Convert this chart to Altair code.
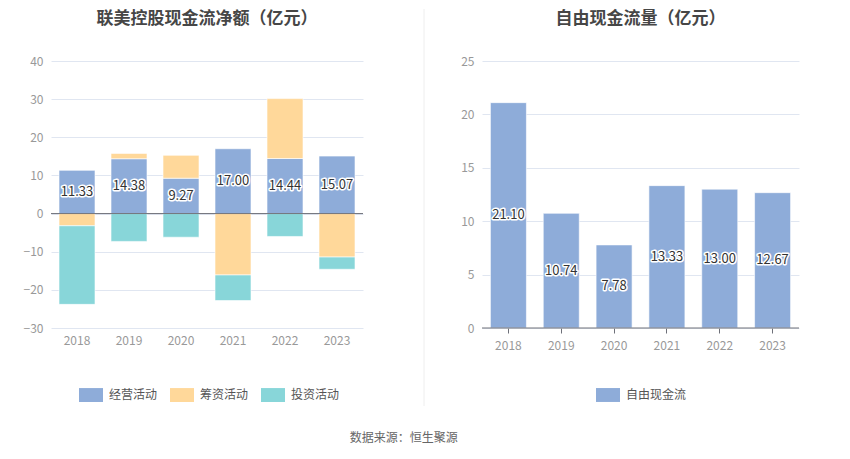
import altair as alt
import pandas as pd

years = ["2018", "2019", "2020", "2021", "2022", "2023"]
types = ["经营活动", "筹资活动", "投资活动"]
operating = [11.33, 14.38, 9.27, 17.00, 14.44, 15.07]
financing = [-3.2, 1.4, 6.0, -16.1, 15.7, -11.4]
investing = [-20.6, -7.3, -6.2, -6.7, -6.0, -3.2]
fcf = [21.10, 10.74, 7.78, 13.33, 13.00, 12.67]

colors = ["#8eacd9", "#ffd89a", "#88d6d9"]
FONT = "Noto Sans CJK SC"

rows = []
for i, y in enumerate(years):
    for k, (t, s) in enumerate(zip(types, [operating, financing, investing])):
        rows.append({"year": y, "type": t, "value": s[i], "idx": k})
df_left = pd.DataFrame(rows)
df_op = pd.DataFrame({"year": years, "value": operating})
df_fcf = pd.DataFrame({"year": years, "value": fcf, "type": ["自由现金流"] * 6})

sym = "M-1,-0.58 L1,-0.58 L1,0.58 L-1,0.58 Z"

def xaxis(ticks):
    return alt.Axis(title=None, labelAngle=0, labelColor="#999999", labelFontSize=12,
                    labelFont=FONT, domain=False, ticks=ticks, tickColor="#6e7079",
                    labelPadding=7)

def yaxis(vals, ext):
    return alt.Axis(title=None, values=vals, labelColor="#999999", labelFontSize=12,
                    labelFont=FONT, domain=False, ticks=False, grid=True, labelOverlap=False,
                    gridColor="#e0e6f1", labelPadding=8, minExtent=ext, maxExtent=ext)

def legend(lx, ly):
    return alt.Legend(title=None, orient="none", legendX=lx, legendY=ly, direction="horizontal",
                      symbolType=sym, symbolSize=576, symbolStrokeWidth=0,
                      labelFont=FONT, labelFontSize=12, labelColor="#555555",
                      columnPadding=12, labelOffset=6)

def title(txt):
    return alt.TitleParams(txt, font=FONT, fontSize=17, fontWeight="bold",
                           color="#464646", anchor="middle", offset=-19)

W1, H = 312, 267
TOP, BOT = -52, H + 78
LVALS = [-30, -20, -10, 0, 10, 20, 30, 40]
RVALS = [0, 5, 10, 15, 20, 25]
xs = alt.Scale(domain=years, paddingInner=0.31, paddingOuter=0.155)
ysl = alt.Scale(domain=[-30, 40])
XL = alt.X("year:N", scale=xs, axis=xaxis(False))

bars_l = alt.Chart(df_left).mark_bar(size=36, stroke="#ffffff", strokeOpacity=0.6, strokeWidth=1).encode(
    x=XL,
    y=alt.Y("value:Q", stack="zero", scale=ysl, axis=yaxis(LVALS, 43)),
    color=alt.Color("type:N", scale=alt.Scale(domain=types, range=colors), legend=legend(28, 322)),
    order=alt.Order("idx:Q"),
)
zero = alt.Chart(pd.DataFrame({"v": [0]})).mark_rule(color="#6e7079", strokeWidth=1).encode(
    y=alt.Y("v:Q", scale=ysl, axis=yaxis(LVALS, 43)))
lab_base = alt.Chart(df_op).transform_calculate(mid="datum.value/2")
lab_bg = lab_base.mark_text(font=FONT, fontSize=13, stroke="#ffffff", strokeWidth=3,
                            strokeJoin="round", fill="#ffffff").encode(
    x=XL, y=alt.Y("mid:Q", scale=ysl, axis=yaxis(LVALS, 43)),
    text=alt.Text("value:Q", format=".2f"))
lab_fg = lab_base.mark_text(font=FONT, fontSize=13, fill="#333333").encode(
    x=XL, y=alt.Y("mid:Q", scale=ysl, axis=yaxis(LVALS, 43)),
    text=alt.Text("value:Q", format=".2f"))
phantom = alt.Chart(pd.DataFrame({"v": [0]})).mark_rule(color="#ffffff", strokeWidth=1, opacity=0).encode(
    x=alt.value(0), y=alt.value(TOP), y2=alt.value(BOT))

left = alt.layer(bars_l, zero, lab_bg, lab_fg, phantom).properties(
    width=W1, height=H, title=title("联美控股现金流净额（亿元）"))

W2 = 317
xs2 = alt.Scale(domain=years, paddingInner=0.31, paddingOuter=0.155)
ysr = alt.Scale(domain=[0, 25])
XR = alt.X("year:N", scale=xs2, axis=xaxis(True))
bars_r = alt.Chart(df_fcf).mark_bar(size=36, stroke="#ffffff", strokeOpacity=0.6, strokeWidth=1).encode(
    x=XR,
    y=alt.Y("value:Q", scale=ysr, axis=yaxis(RVALS, 30)),
    color=alt.Color("type:N", scale=alt.Scale(domain=["自由现金流"], range=[colors[0]]),
                    legend=legend(114, 322)),
)
zero_r = alt.Chart(pd.DataFrame({"v": [0]})).mark_rule(color="#6e7079", strokeWidth=1).encode(
    y=alt.Y("v:Q", scale=ysr, axis=yaxis(RVALS, 30)))
lab_base_r = alt.Chart(df_fcf).transform_calculate(mid="datum.value/2")
lab_bg_r = lab_base_r.mark_text(font=FONT, fontSize=13, stroke="#ffffff", strokeWidth=3,
                                strokeJoin="round", fill="#ffffff").encode(
    x=XR, y=alt.Y("mid:Q", scale=ysr, axis=yaxis(RVALS, 30)),
    text=alt.Text("value:Q", format=".2f"))
lab_fg_r = lab_base_r.mark_text(font=FONT, fontSize=13, fill="#333333").encode(
    x=XR, y=alt.Y("mid:Q", scale=ysr, axis=yaxis(RVALS, 30)),
    text=alt.Text("value:Q", format=".2f"))
divider = alt.Chart(pd.DataFrame({"v": [0]})).mark_rule(color="#eeeeee", strokeWidth=1).encode(
    x=alt.value(-58), y=alt.value(TOP), y2=alt.value(BOT))

right = alt.layer(bars_r, zero_r, lab_bg_r, lab_fg_r, divider).properties(
    width=W2, height=H, title=title("自由现金流量（亿元）"))

chart = alt.hconcat(left, right, spacing=59).resolve_scale(color="independent").properties(
    title=alt.TitleParams("数据来源：恒生聚源", orient="bottom", anchor="middle", font=FONT,
                          fontSize=12, color="#666666", fontWeight="normal", offset=26),
).configure(background="#ffffff", padding=0).configure_view(strokeWidth=0, stroke="transparent")

chart.save("out.html", embed_options={"renderer": "svg", "actions": False})
